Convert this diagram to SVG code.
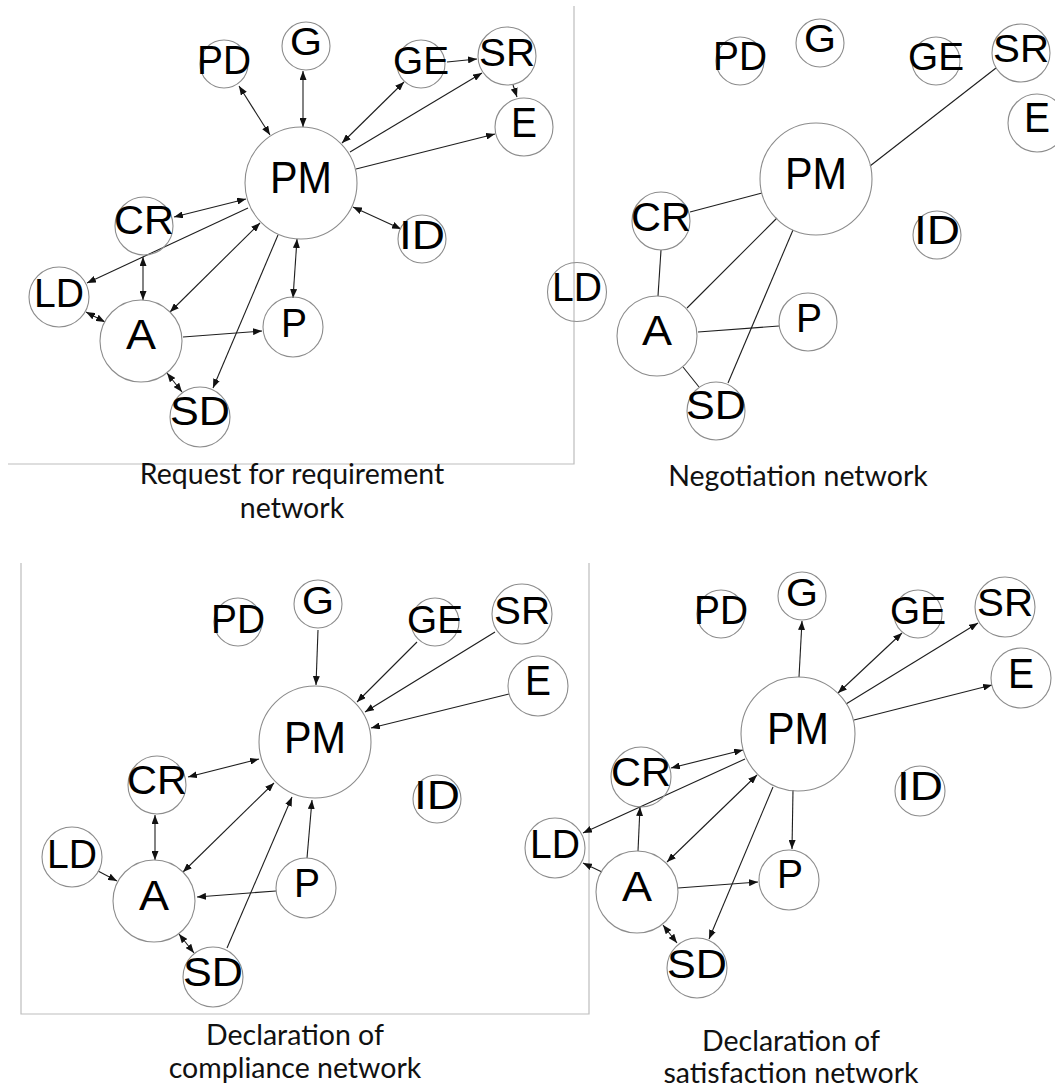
<svg xmlns="http://www.w3.org/2000/svg" width="1055" height="1089" viewBox="0 0 1055 1089">
  <defs>
    <marker id="head" viewBox="0 0 10 10" refX="10" refY="5" markerUnits="userSpaceOnUse" markerWidth="9" markerHeight="7" orient="auto-start-reverse" preserveAspectRatio="none">
      <path d="M0,0 L10,5 L0,10 z" fill="#111"/>
    </marker>
    <style>
      .frame { stroke: #bdbdbd; stroke-width: 1.2; fill: none; }
      .node circle { fill: none; stroke: #8c8c8c; stroke-width: 1.1; }
      .node text { font-family: "Liberation Sans", Arial, sans-serif; fill: #000; text-anchor: middle; }
      .edge { stroke: #1e1e1e; stroke-width: 1.1; fill: none; }
      .uni { marker-end: url(#head); }
      .bi { marker-start: url(#head); marker-end: url(#head); }
      .caption { font-family: Lato, "Open Sans", sans-serif; font-size: 28.5px; fill: #111; text-anchor: middle; }
      .PD { font-size: 40px; } .G { font-size: 38px; } .GE { font-size: 38px; } .SR { font-size: 38px; }
      .E { font-size: 42px; } .PM { font-size: 44px; } .ID { font-size: 40px; } .CR { font-size: 40px; }
      .LD { font-size: 40px; } .A { font-size: 42px; } .P { font-size: 40px; } .SD { font-size: 40px; }
    </style>
  </defs>

  <rect width="1055" height="1089" fill="#fff"/>

  <!-- panel frames -->
  <path class="frame" d="M8,464 H574 V6"/>
  <path class="frame" d="M21,563 V1014 H589 V563"/>

  <!-- connectors -->
  <g id="connectors">
    <g id="edges-request">
      <line class="edge bi" x1="239" y1="86" x2="270" y2="135"/>
      <line class="edge bi" x1="303" y1="71" x2="303" y2="127"/>
      <line class="edge bi" x1="404" y1="82" x2="342" y2="143"/>
      <line class="edge uni" x1="350" y1="152" x2="482" y2="73"/>
      <line class="edge uni" x1="447" y1="62" x2="477" y2="59"/>
      <line class="edge uni" x1="513" y1="85" x2="517" y2="97"/>
      <line class="edge uni" x1="356" y1="169" x2="495" y2="134"/>
      <line class="edge bi" x1="353" y1="207" x2="401" y2="229"/>
      <line class="edge bi" x1="174" y1="217" x2="246" y2="199"/>
      <line class="edge uni" x1="248" y1="208" x2="87" y2="283"/>
      <line class="edge bi" x1="143" y1="257" x2="143" y2="300"/>
      <line class="edge bi" x1="86" y1="312" x2="105" y2="322"/>
      <line class="edge bi" x1="170" y1="312" x2="260" y2="223"/>
      <line class="edge uni" x1="278" y1="235" x2="213" y2="388"/>
      <line class="edge bi" x1="297" y1="239" x2="293" y2="298"/>
      <line class="edge uni" x1="183" y1="337" x2="262" y2="331"/>
      <line class="edge bi" x1="167" y1="373" x2="182" y2="392"/>
    </g>
    <g id="edges-negotiation">
      <line class="edge" x1="870" y1="166" x2="996" y2="68"/>
      <line class="edge" x1="690" y1="212" x2="762" y2="193"/>
      <line class="edge" x1="661" y1="250" x2="658" y2="296"/>
      <line class="edge" x1="687" y1="308" x2="777" y2="218"/>
      <line class="edge" x1="728" y1="383" x2="793" y2="230"/>
      <line class="edge" x1="698" y1="332" x2="779" y2="326"/>
      <line class="edge" x1="683" y1="367" x2="699" y2="387"/>
    </g>
    <g id="edges-compliance">
      <line class="edge uni" x1="318" y1="630" x2="316" y2="685"/>
      <line class="edge uni" x1="417" y1="642" x2="357" y2="702"/>
      <line class="edge uni" x1="495" y1="632" x2="365" y2="712"/>
      <line class="edge uni" x1="509" y1="694" x2="371" y2="728"/>
      <line class="edge bi" x1="188" y1="777" x2="259" y2="759"/>
      <line class="edge bi" x1="183" y1="872" x2="274" y2="783"/>
      <line class="edge uni" x1="227" y1="948" x2="292" y2="797"/>
      <line class="edge uni" x1="307" y1="858" x2="312" y2="800"/>
      <line class="edge bi" x1="155" y1="815" x2="155" y2="860"/>
      <line class="edge uni" x1="98" y1="871" x2="117" y2="881"/>
      <line class="edge uni" x1="276" y1="891" x2="197" y2="897"/>
      <line class="edge bi" x1="179" y1="934" x2="194" y2="953"/>
    </g>
    <g id="edges-satisfaction">
      <line class="edge uni" x1="799" y1="677" x2="802" y2="621"/>
      <line class="edge bi" x1="838" y1="693" x2="902" y2="633"/>
      <line class="edge uni" x1="846" y1="704" x2="978" y2="623"/>
      <line class="edge uni" x1="854" y1="720" x2="992" y2="685"/>
      <line class="edge bi" x1="671" y1="768" x2="743" y2="750"/>
      <line class="edge uni" x1="745" y1="759" x2="583" y2="833"/>
      <line class="edge uni" x1="638" y1="851" x2="640" y2="807"/>
      <line class="edge uni" x1="602" y1="872" x2="583" y2="863"/>
      <line class="edge bi" x1="667" y1="862" x2="757" y2="775"/>
      <line class="edge uni" x1="773" y1="787" x2="709" y2="939"/>
      <line class="edge uni" x1="793" y1="790" x2="792" y2="849"/>
      <line class="edge uni" x1="678" y1="888" x2="758" y2="882"/>
      <line class="edge bi" x1="663" y1="925" x2="677" y2="943"/>
    </g>
  </g>

  <!-- Request for requirement network -->
  <g id="req-PD" class="node"><circle cx="224" cy="64" r="24"/><text class="PD" x="224" y="74" textLength="54" lengthAdjust="spacingAndGlyphs">PD</text></g>
  <g id="req-G" class="node"><circle cx="306" cy="46" r="24"/><text class="G" x="306" y="55" textLength="32" lengthAdjust="spacingAndGlyphs">G</text></g>
  <g id="req-GE" class="node"><circle cx="421" cy="64" r="24"/><text class="GE" x="421" y="74" textLength="56" lengthAdjust="spacingAndGlyphs">GE</text></g>
  <g id="req-SR" class="node"><circle cx="507" cy="56" r="29"/><text class="SR" x="507" y="66" textLength="56" lengthAdjust="spacingAndGlyphs">SR</text></g>
  <g id="req-E" class="node"><circle cx="524" cy="127" r="29"/><text class="E" x="524" y="137" textLength="26" lengthAdjust="spacingAndGlyphs">E</text></g>
  <g id="req-PM" class="node"><circle cx="301" cy="183" r="56"/><text class="PM" x="301" y="193" textLength="62" lengthAdjust="spacingAndGlyphs">PM</text></g>
  <g id="req-ID" class="node"><circle cx="422" cy="239" r="24"/><text class="ID" x="422" y="249" textLength="46" lengthAdjust="spacingAndGlyphs">ID</text></g>
  <g id="req-CR" class="node"><circle cx="144" cy="226" r="29"/><text class="CR" x="144" y="234" textLength="60" lengthAdjust="spacingAndGlyphs">CR</text></g>
  <g id="req-LD" class="node"><circle cx="59" cy="297" r="30"/><text class="LD" x="59" y="307" textLength="50" lengthAdjust="spacingAndGlyphs">LD</text></g>
  <g id="req-A" class="node"><circle cx="141" cy="341" r="41"/><text class="A" x="141" y="349" textLength="30" lengthAdjust="spacingAndGlyphs">A</text></g>
  <g id="req-P" class="node"><circle cx="293" cy="327" r="30"/><text class="P" x="294" y="337" textLength="26" lengthAdjust="spacingAndGlyphs">P</text></g>
  <g id="req-SD" class="node"><circle cx="200" cy="417" r="30"/><text class="SD" x="200" y="425" textLength="60" lengthAdjust="spacingAndGlyphs">SD</text></g>

  <!-- Negotiation network -->
  <g id="neg-PD" class="node"><circle cx="740" cy="61" r="24"/><text class="PD" x="740" y="70" textLength="54" lengthAdjust="spacingAndGlyphs">PD</text></g>
  <g id="neg-G" class="node"><circle cx="820" cy="43" r="24"/><text class="G" x="820" y="52" textLength="32" lengthAdjust="spacingAndGlyphs">G</text></g>
  <g id="neg-GE" class="node"><circle cx="936" cy="61" r="24"/><text class="GE" x="936" y="70" textLength="56" lengthAdjust="spacingAndGlyphs">GE</text></g>
  <g id="neg-SR" class="node"><circle cx="1021" cy="53" r="29"/><text class="SR" x="1021" y="62" textLength="56" lengthAdjust="spacingAndGlyphs">SR</text></g>
  <g id="neg-E" class="node"><circle cx="1037" cy="123" r="29"/><text class="E" x="1037" y="132" textLength="26" lengthAdjust="spacingAndGlyphs">E</text></g>
  <g id="neg-PM" class="node"><circle cx="816" cy="179" r="56"/><text class="PM" x="816" y="189" textLength="62" lengthAdjust="spacingAndGlyphs">PM</text></g>
  <g id="neg-CR" class="node"><circle cx="661" cy="221" r="29"/><text class="CR" x="661" y="231" textLength="60" lengthAdjust="spacingAndGlyphs">CR</text></g>
  <g id="neg-ID" class="node"><circle cx="937" cy="235" r="24"/><text class="ID" x="937" y="244" textLength="46" lengthAdjust="spacingAndGlyphs">ID</text></g>
  <g id="neg-LD" class="node"><circle cx="577" cy="292" r="29.5"/><text class="LD" x="577" y="301" textLength="50" lengthAdjust="spacingAndGlyphs">LD</text></g>
  <g id="neg-A" class="node"><circle cx="657" cy="336" r="40"/><text class="A" x="657" y="345" textLength="30" lengthAdjust="spacingAndGlyphs">A</text></g>
  <g id="neg-P" class="node"><circle cx="808" cy="322" r="29"/><text class="P" x="809" y="332" textLength="26" lengthAdjust="spacingAndGlyphs">P</text></g>
  <g id="neg-SD" class="node"><circle cx="716" cy="411" r="29"/><text class="SD" x="716" y="419" textLength="60" lengthAdjust="spacingAndGlyphs">SD</text></g>

  <!-- Declaration of compliance network -->
  <g id="com-PD" class="node"><circle cx="238" cy="622" r="24"/><text class="PD" x="238" y="633" textLength="54" lengthAdjust="spacingAndGlyphs">PD</text></g>
  <g id="com-G" class="node"><circle cx="318" cy="604" r="24"/><text class="G" x="318" y="614" textLength="32" lengthAdjust="spacingAndGlyphs">G</text></g>
  <g id="com-GE" class="node"><circle cx="435" cy="622" r="24"/><text class="GE" x="435" y="633" textLength="56" lengthAdjust="spacingAndGlyphs">GE</text></g>
  <g id="com-SR" class="node"><circle cx="522" cy="614" r="30"/><text class="SR" x="522" y="624" textLength="56" lengthAdjust="spacingAndGlyphs">SR</text></g>
  <g id="com-E" class="node"><circle cx="538" cy="686" r="30"/><text class="E" x="538" y="695" textLength="26" lengthAdjust="spacingAndGlyphs">E</text></g>
  <g id="com-PM" class="node"><circle cx="315" cy="742" r="56"/><text class="PM" x="315" y="753" textLength="62" lengthAdjust="spacingAndGlyphs">PM</text></g>
  <g id="com-ID" class="node"><circle cx="437" cy="799" r="24"/><text class="ID" x="437" y="809" textLength="46" lengthAdjust="spacingAndGlyphs">ID</text></g>
  <g id="com-CR" class="node"><circle cx="157" cy="785" r="29"/><text class="CR" x="157" y="794" textLength="60" lengthAdjust="spacingAndGlyphs">CR</text></g>
  <g id="com-LD" class="node"><circle cx="72" cy="857" r="30"/><text class="LD" x="72" y="868" textLength="50" lengthAdjust="spacingAndGlyphs">LD</text></g>
  <g id="com-A" class="node"><circle cx="154" cy="901" r="41"/><text class="A" x="154" y="910" textLength="30" lengthAdjust="spacingAndGlyphs">A</text></g>
  <g id="com-P" class="node"><circle cx="306" cy="888" r="30"/><text class="P" x="307" y="897" textLength="26" lengthAdjust="spacingAndGlyphs">P</text></g>
  <g id="com-SD" class="node"><circle cx="213" cy="977" r="30"/><text class="SD" x="213" y="986" textLength="60" lengthAdjust="spacingAndGlyphs">SD</text></g>

  <!-- Declaration of satisfaction network -->
  <g id="sat-PD" class="node"><circle cx="721" cy="614" r="24"/><text class="PD" x="721" y="624" textLength="54" lengthAdjust="spacingAndGlyphs">PD</text></g>
  <g id="sat-G" class="node"><circle cx="802" cy="596" r="24"/><text class="G" x="802" y="606" textLength="32" lengthAdjust="spacingAndGlyphs">G</text></g>
  <g id="sat-GE" class="node"><circle cx="918" cy="614" r="24"/><text class="GE" x="918" y="624" textLength="56" lengthAdjust="spacingAndGlyphs">GE</text></g>
  <g id="sat-SR" class="node"><circle cx="1005" cy="607" r="30"/><text class="SR" x="1005" y="616" textLength="56" lengthAdjust="spacingAndGlyphs">SR</text></g>
  <g id="sat-E" class="node"><circle cx="1021" cy="678" r="30"/><text class="E" x="1021" y="688" textLength="26" lengthAdjust="spacingAndGlyphs">E</text></g>
  <g id="sat-PM" class="node"><circle cx="798" cy="734" r="57"/><text class="PM" x="798" y="744" textLength="62" lengthAdjust="spacingAndGlyphs">PM</text></g>
  <g id="sat-ID" class="node"><circle cx="920" cy="791" r="25"/><text class="ID" x="920" y="800" textLength="46" lengthAdjust="spacingAndGlyphs">ID</text></g>
  <g id="sat-CR" class="node"><circle cx="641" cy="777" r="30"/><text class="CR" x="641" y="786" textLength="60" lengthAdjust="spacingAndGlyphs">CR</text></g>
  <g id="sat-LD" class="node"><circle cx="555" cy="848" r="30"/><text class="LD" x="555" y="858" textLength="50" lengthAdjust="spacingAndGlyphs">LD</text></g>
  <g id="sat-A" class="node"><circle cx="637" cy="892" r="41"/><text class="A" x="637" y="901" textLength="30" lengthAdjust="spacingAndGlyphs">A</text></g>
  <g id="sat-P" class="node"><circle cx="789" cy="880" r="30"/><text class="P" x="790" y="888" textLength="26" lengthAdjust="spacingAndGlyphs">P</text></g>
  <g id="sat-SD" class="node"><circle cx="697" cy="968" r="30"/><text class="SD" x="697" y="978" textLength="60" lengthAdjust="spacingAndGlyphs">SD</text></g>

  <!-- captions -->
  <text class="caption" x="292" y="484">Request for requirement</text>
  <text class="caption" x="292" y="518">network</text>
  <text class="caption" x="798" y="486">Negotiation network</text>
  <text class="caption" x="295" y="1045">Declaration of</text>
  <text class="caption" x="295" y="1078">compliance network</text>
  <text class="caption" x="791" y="1051">Declaration of</text>
  <text class="caption" x="791" y="1083">satisfaction network</text>
</svg>
